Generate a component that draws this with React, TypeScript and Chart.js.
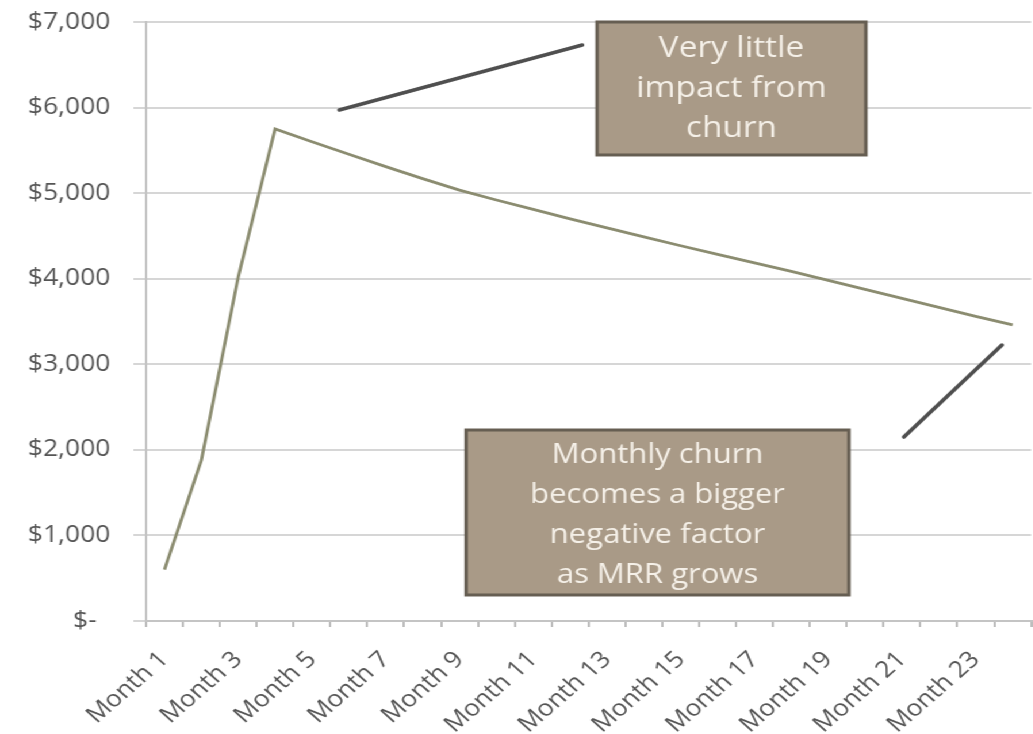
import React, { useEffect, useRef } from 'react';
import { Chart, registerables } from 'chart.js';

Chart.register(...registerables);

// Monthly recurring revenue over the first two years
const months = [
  'Month 1', 'Month 2', 'Month 3', 'Month 4', 'Month 5', 'Month 6',
  'Month 7', 'Month 8', 'Month 9', 'Month 10', 'Month 11', 'Month 12',
  'Month 13', 'Month 14', 'Month 15', 'Month 16', 'Month 17', 'Month 18',
  'Month 19', 'Month 20', 'Month 21', 'Month 22', 'Month 23', 'Month 24',
];

const mrr = [
  600, 1880, 4020, 5750, 5600, 5455, 5310, 5170, 5035, 4920, 4810, 4700,
  4595, 4490, 4385, 4285, 4185, 4085, 3980, 3875, 3770, 3665, 3560, 3460,
];

const yMin = 0;
const yMax = 7000;
const yStep = 1000;

// Callout boxes, placed in data space (category index, dollar value)
const noteBoxes = [
  { x0: 11.73, x1: 19.02, yTop: 7000, yBottom: 5446, size: 29, dy: 0, lines: ['Very little', 'impact from', 'churn'] },
  { x0: 8.18, x1: 18.56, yTop: 2232, yBottom: 304, size: 27, dy: 3, lines: ['Monthly churn', 'becomes a bigger', 'negative factor', 'as MRR grows'] },
];

// Leader strokes pointing from the callouts towards the curve
const noteLeaders = [
  { from: [4.74, 5972], to: [11.33, 6731] },
  { from: [20.05, 2150], to: [22.71, 3225] },
];

const STRETCH = 1.15;
const WIDTH = 898;
const HEIGHT = 734;
const FONT = "'Open Sans', sans-serif";

const calloutPlugin = {
  id: 'callouts',
  afterDatasetsDraw(chart: any) {
    const { ctx, scales } = chart;
    const xs = scales.x;
    const ys = scales.y;
    ctx.save();

    ctx.strokeStyle = '#4f4f4f';
    ctx.lineWidth = 3.5;
    ctx.lineCap = 'round';
    for (const l of noteLeaders) {
      ctx.beginPath();
      ctx.moveTo(xs.getPixelForValue(l.from[0]), ys.getPixelForValue(l.from[1]));
      ctx.lineTo(xs.getPixelForValue(l.to[0]), ys.getPixelForValue(l.to[1]));
      ctx.stroke();
    }

    for (const b of noteBoxes) {
      const left = xs.getPixelForValue(b.x0);
      const right = xs.getPixelForValue(b.x1);
      const top = ys.getPixelForValue(b.yTop);
      const bottom = ys.getPixelForValue(b.yBottom);
      ctx.fillStyle = '#a99a87';
      ctx.fillRect(left, top, right - left, bottom - top);
      ctx.strokeStyle = '#665e52';
      ctx.lineWidth = 3;
      ctx.lineCap = 'butt';
      ctx.strokeRect(left, top, right - left, bottom - top);

      ctx.fillStyle = '#f5f0e8';
      ctx.font = `${b.size}px ${FONT}`;
      ctx.textAlign = 'center';
      ctx.textBaseline = 'middle';
      const cx = (left + right) / 2;
      const cy = (top + bottom) / 2 + b.dy;
      const lh = 40;
      const start = cy - ((b.lines.length - 1) * lh) / 2;
      b.lines.forEach((t, i) => ctx.fillText(t, cx, start + i * lh));
    }
    ctx.restore();
  },
};

function formatDollars(v: number) {
  if (v === 0) return '$-  ';
  return '$' + v.toLocaleString('en-US');
}

export default function App() {
  const canvasRef = useRef<HTMLCanvasElement | null>(null);

  useEffect(() => {
    const canvas = canvasRef.current;
    if (!canvas) return;
    const chart = new Chart(canvas, {
      type: 'line',
      data: {
        labels: months,
        datasets: [
          {
            data: mrr,
            borderColor: '#8b8c70',
            borderWidth: 2.8,
            pointRadius: 0,
            tension: 0,
            fill: false,
          },
        ],
      },
      options: {
        animation: false,
        responsive: true,
        maintainAspectRatio: false,
        layout: { padding: { top: 22, right: 1, left: 0, bottom: 0 } },
        plugins: {
          legend: { display: false },
          tooltip: { enabled: false },
        },
        scales: {
          x: {
            offset: true,
            grid: {
              offset: true,
              drawOnChartArea: false,
              drawTicks: true,
              tickLength: 6,
              color: '#bdbdbd',
              lineWidth: 2,
            },
            border: { color: '#c4c4c4', width: 2 },
            ticks: {
              autoSkip: false,
              minRotation: 45,
              maxRotation: 45,
              padding: 19,
              color: '#555555',
              font: { family: FONT, size: 23 },
              callback: (_v: any, i: number) => (i % 2 === 0 ? months[i] : ''),
            },
            afterFit: (scale: any) => {
              scale.height = 113;
              scale.paddingLeft = 0;
              scale.paddingRight = 0;
            },
          },
          y: {
            min: yMin,
            max: yMax,
            grid: {
              color: '#d6d6d6',
              lineWidth: 2,
              drawTicks: true,
              tickLength: 11,
            },
            border: { color: '#c4c4c4', width: 2 },
            ticks: {
              stepSize: yStep,
              padding: 20,
              color: '#555555',
              font: { family: FONT, size: 23 },
              callback: (v: any) => formatDollars(Number(v)),
            },
            afterFit: (scale: any) => {
              scale.width = 127;
              scale.paddingTop = 0;
              scale.paddingBottom = 0;
            },
          },
        },
      },
      plugins: [calloutPlugin],
    });
    return () => chart.destroy();
  }, []);

  return (
    <div
      style={{
        position: 'absolute',
        left: 0,
        top: 0,
        width: WIDTH,
        height: HEIGHT,
        transform: `scaleX(${STRETCH})`,
        transformOrigin: '0 0',
        background: '#ffffff',
      }}
    >
      <canvas ref={canvasRef} />
    </div>
  );
}
